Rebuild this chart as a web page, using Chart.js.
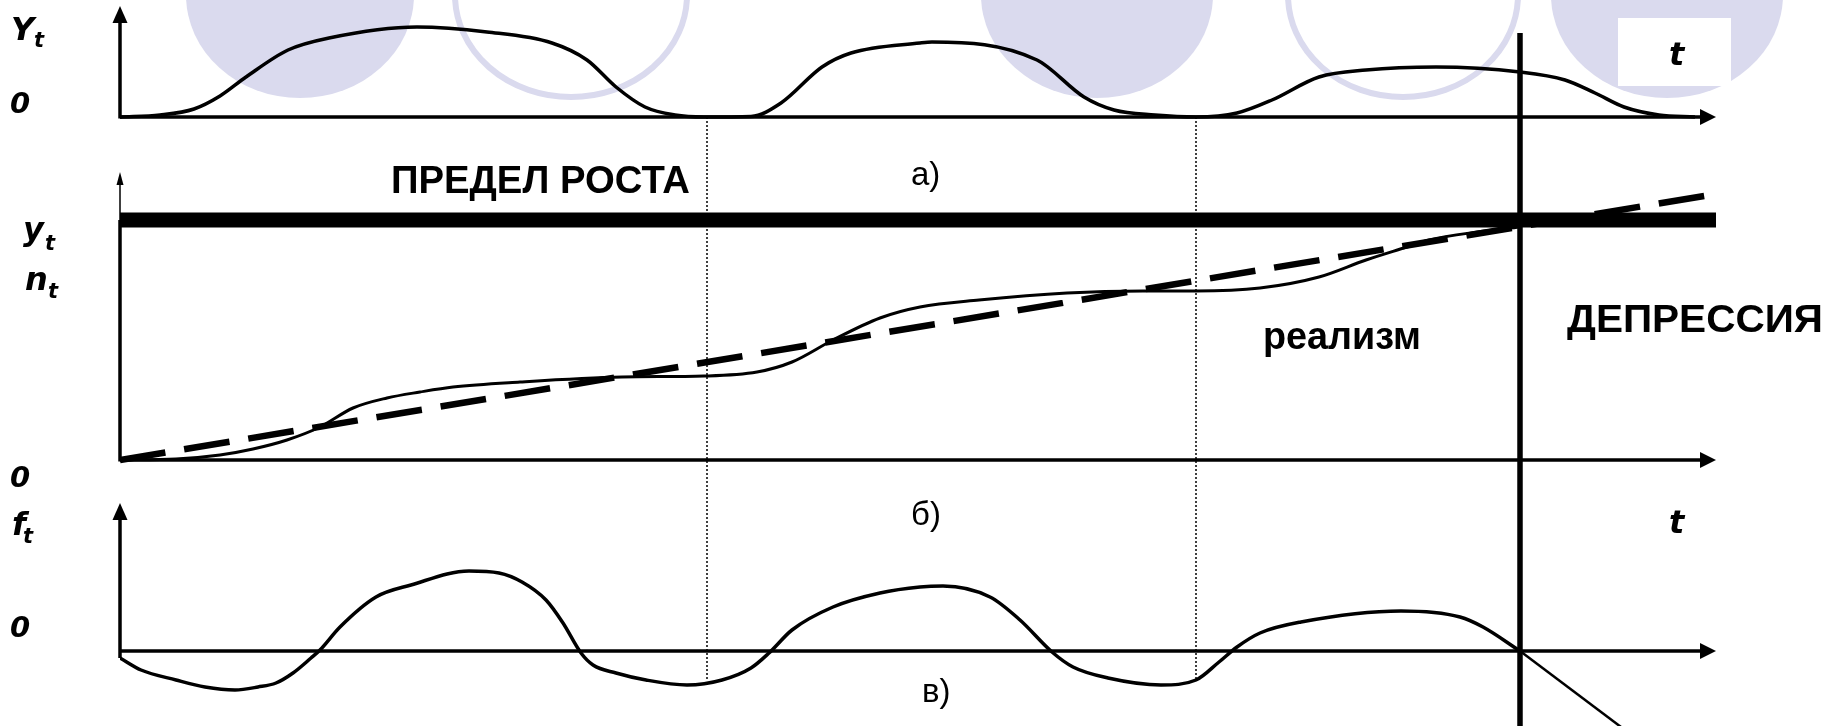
<!DOCTYPE html>
<html>
<head>
<meta charset="utf-8">
<script src="https://cdn.jsdelivr.net/npm/chart.js@4.4.0/dist/chart.umd.min.js"></script>
<style>
  html, body { margin: 0; padding: 0; background: #fff; }
  #wrap { width: 1841px; height: 726px; position: relative; }
</style>
</head>
<body>
<div id="wrap"><canvas id="cycleChart"></canvas></div>
<script>
// Time axis runs 0..160 (arbitrary units), each panel has its own value axis

// а) output Y_t
const outputT = [0, 4, 7.4, 10, 12.6, 16.8, 20.9, 29.7, 36.7, 43.2, 46.7, 49.6, 52.5, 55.5, 58.4, 63.1, 66.1, 70.2, 73.1, 80, 81.2, 91.7, 96.4, 99.4, 103.5, 107.6, 111.7, 115.2, 119.9, 124.6, 131.6, 140, 144.5, 147.5, 150.4, 153.9, 157.5];
const outputY = [0, 0.2, 0.8, 2.1, 4.0, 6.7, 7.9, 9.0, 8.5, 7.4, 5.7, 3.0, 1.0, 0.2, 0, 0.05, 1.4, 5.0, 6.4, 7.4, 7.5, 5.7, 2.0, 0.7, 0.2, 0, 0.4, 1.7, 4.0, 4.7, 5.0, 4.5, 3.7, 2.4, 1.0, 0.2, 0];

// б) y_t / n_t growth curve
const growthT = [0, 5.6, 10, 13.3, 16.7, 20, 23.3, 26.7, 30, 33.3, 40, 50.2, 58.4, 63.7, 67.2, 71.3, 76, 80, 85.9, 94.7, 102.3, 107.6, 114, 119.9, 124.6, 128.7, 130.9, 135.7, 140];
const growthY = [0, 0.1, 0.5, 1.1, 2.0, 3.3, 5.2, 6.2, 6.8, 7.3, 7.8, 8.3, 8.4, 8.8, 9.8, 12.0, 14.2, 15.3, 16.0, 16.7, 16.9, 16.9, 17.2, 18.3, 20.0, 21.3, 22.0, 22.8, 23.3];

// б) linear trend and growth limit
const trendT = [0, 159.6];
const trendY = [0, 26.6];
const limitLevel = 24;

// в) f_t
const factorT = [0, 2.1, 5.6, 8.5, 11.5, 13.8, 15.6, 17.3, 19.1, 20, 22, 25.6, 29.1, 34.9, 37.9, 40.2, 42.6, 44.3, 46.1, 47.3, 49.6, 52.6, 56.7, 60.2, 63.1, 64.9, 67.2, 71.3, 76, 80, 82.3, 87, 90, 93.2, 95.3, 98.8, 104.1, 107.6, 109.9, 111.7, 114, 118.1, 128.1, 134, 136.3, 140];
const factorY = [-0.7, -1.9, -2.9, -3.6, -3.9, -3.6, -3.2, -2.2, -0.7, 0.1, 2.4, 5.4, 6.6, 8.0, 7.8, 6.9, 5.1, 2.8, -0.2, -1.4, -2.2, -2.9, -3.4, -2.9, -1.7, -0.2, 2.1, 4.4, 5.8, 6.4, 6.5, 5.4, 3.1, -0.1, -1.6, -2.7, -3.4, -2.9, -1.1, 0.4, 1.8, 2.9, 4.0, 3.4, 2.4, 0];
const collapseT = [140, 150.5];
const collapseY = [0, -7.9];

// phase boundaries (dotted) and the crisis moment (solid vertical)
const phaseBounds = [58.7, 107.6];
const phaseBottom = -3.0;
const crisisT = 140;
const crisisTop = 8.4;
const axisEndT = 159.6;

// layout
const H = 726;
const UNIT = 10;
function band(zeroPx) {
  return { min: -(H - zeroPx) / UNIT, max: zeroPx / UNIT };
}
const axisTops = { yTop: 11.1, yMid: 28.8, yBot: 14.8 };
const lavender = "rgb(218, 218, 238)";

function pts(xs, ys) {
  return xs.map((x, i) => ({ x: x, y: ys[i] }));
}

function arrowHead(ctx, x, y, dir, len, half) {
  ctx.beginPath();
  if (dir === "up") {
    ctx.moveTo(x, y);
    ctx.lineTo(x - half, y + len);
    ctx.lineTo(x + half, y + len);
  } else {
    ctx.moveTo(x, y);
    ctx.lineTo(x - len, y - half);
    ctx.lineTo(x - len, y + half);
  }
  ctx.closePath();
  ctx.fill();
}

function fitText(ctx, text, x, y, font, width) {
  ctx.font = font;
  const w = ctx.measureText(text).width;
  ctx.save();
  ctx.translate(x, y);
  ctx.scale(width / w, 1);
  ctx.fillText(text, 0, 0);
  ctx.restore();
}

// slide background: lavender circles and white box under "t"
const backdrop = {
  id: "backdrop",
  beforeDraw(chart) {
    const ctx = chart.ctx;
    ctx.save();
    ctx.fillStyle = "#fff";
    ctx.fillRect(0, 0, chart.width, chart.height);
    ctx.fillStyle = lavender;
    [[300, 114], [1097, 116], [1667, 116]].forEach(([cx, rx]) => {
      ctx.beginPath();
      ctx.ellipse(cx, -5, rx, 103, 0, 0, Math.PI * 2);
      ctx.fill();
    });
    ctx.strokeStyle = lavender;
    ctx.lineWidth = 6;
    [[571, 116], [1403, 115]].forEach(([cx, rx]) => {
      ctx.beginPath();
      ctx.ellipse(cx, -5, rx, 102, 0, 0, Math.PI * 2);
      ctx.stroke();
    });
    ctx.fillStyle = "#fff";
    ctx.fillRect(1618, 18, 113, 68);
    ctx.restore();
  },
};

// axes with arrows, phase boundaries
const guides = {
  id: "guides",
  beforeDatasetsDraw(chart) {
    const ctx = chart.ctx;
    const x = chart.scales.x;
    const x0 = x.getPixelForValue(0);
    const xEnd = x.getPixelForValue(axisEndT);
    ctx.save();
    ctx.strokeStyle = "#000";
    ctx.fillStyle = "#000";
    ctx.lineCap = "butt";

    // dotted phase boundaries
    ctx.lineWidth = 1.5;
    ctx.setLineDash([2, 2]);
    phaseBounds.forEach((t) => {
      const px = x.getPixelForValue(t);
      ctx.beginPath();
      ctx.moveTo(px, chart.scales.yTop.getPixelForValue(0));
      ctx.lineTo(px, chart.scales.yBot.getPixelForValue(phaseBottom));
      ctx.stroke();
    });
    ctx.setLineDash([]);

    ["yTop", "yMid", "yBot"].forEach((id) => {
      const s = chart.scales[id];
      const y0 = s.getPixelForValue(0);
      const tip = s.getPixelForValue(axisTops[id]);
      const low = id === "yBot" ? s.getPixelForValue(Math.min(0, factorY[0])) : y0 + 1.5;
      ctx.lineWidth = 3.5;
      // horizontal time axis
      ctx.beginPath();
      ctx.moveTo(x0, y0);
      ctx.lineTo(xEnd - 12, y0);
      ctx.stroke();
      arrowHead(ctx, xEnd, y0, "right", 16, 8);
      // vertical value axis
      if (id === "yMid") {
        const lim = s.getPixelForValue(limitLevel);
        ctx.beginPath();
        ctx.moveTo(x0, low);
        ctx.lineTo(x0, lim);
        ctx.stroke();
        ctx.lineWidth = 1.5;
        ctx.beginPath();
        ctx.moveTo(x0, lim);
        ctx.lineTo(x0, tip + 8);
        ctx.stroke();
        arrowHead(ctx, x0, tip, "up", 13, 3.5);
      } else {
        ctx.beginPath();
        ctx.moveTo(x0, low);
        ctx.lineTo(x0, tip + 12);
        ctx.stroke();
        arrowHead(ctx, x0, tip, "up", 17, 7.5);
      }
    });
    ctx.restore();
  },
  afterDatasetsDraw(chart) {
    const ctx = chart.ctx;
    const px = chart.scales.x.getPixelForValue(crisisT);
    ctx.save();
    ctx.strokeStyle = "#000";
    ctx.lineWidth = 5.5;
    ctx.beginPath();
    ctx.moveTo(px, chart.scales.yTop.getPixelForValue(crisisTop));
    ctx.lineTo(px, chart.height);
    ctx.stroke();
    ctx.restore();
  },
};

// text labels
const labels = {
  id: "labels",
  afterDraw(chart) {
    const ctx = chart.ctx;
    const F = "'Liberation Sans', Arial, sans-serif";
    const M = "'DejaVu Sans', Verdana, sans-serif";
    ctx.save();
    ctx.fillStyle = "#000";
    ctx.textBaseline = "alphabetic";
    ctx.textAlign = "left";

    const sym = (main, sub, x, y, subDx, subDy) => {
      ctx.font = "italic bold 32px " + M;
      ctx.fillText(main, x, y);
      ctx.font = "italic bold 21px " + M;
      ctx.fillText(sub, x + subDx, y + subDy);
    };
    sym("Y", "t", 11, 40, 23, 7);
    sym("y", "t", 23, 240, 22, 10);
    sym("n", "t", 25, 290, 23, 8);
    sym("f", "t", 12, 535, 11, 8);

    ctx.font = "italic bold 29px " + M;
    ctx.fillText("0", 10, 113);
    ctx.fillText("0", 10, 487);
    ctx.fillText("0", 10, 637);

    ctx.font = "italic bold 32px " + M;
    ctx.fillText("t", 1669, 65);
    ctx.fillText("t", 1669, 533);

    ctx.font = "33px " + F;
    ctx.fillText("а)", 911, 185);
    ctx.fillText("б)", 911, 525);
    ctx.fillText("в)", 922, 702);

    fitText(ctx, "ПРЕДЕЛ РОСТА", 391, 193, "bold 38px " + F, 299);
    fitText(ctx, "реализм", 1263, 349, "bold 38px " + F, 158);
    fitText(ctx, "ДЕПРЕССИЯ", 1567, 332, "bold 39px " + F, 256);
    ctx.restore();
  },
};

const line = (data, axis, width, extra) =>
  Object.assign(
    {
      data: data,
      yAxisID: axis,
      borderColor: "#000",
      borderWidth: width,
      pointRadius: 0,
      fill: false,
      cubicInterpolationMode: "monotone",
    },
    extra || {}
  );

const ctx = document.getElementById("cycleChart").getContext("2d");
const chart = new Chart(ctx, {
  type: "line",
  data: {
    datasets: [
      line(pts([0, axisEndT], [limitLevel, limitLevel]), "yMid", 15, { borderCapStyle: "butt" }),
      line(pts(outputT, outputY), "yTop", 3.5),
      line(pts(growthT, growthY), "yMid", 3),
      line(pts(trendT, trendY), "yMid", 6.5, { borderDash: [46, 19], borderCapStyle: "butt" }),
      line(pts(factorT, factorY), "yBot", 3.5),
      line(pts(collapseT, collapseY), "yBot", 2.5, { cubicInterpolationMode: "default", tension: 0 }),
    ],
  },
  options: {
    responsive: true,
    maintainAspectRatio: false,
    animation: false,
    events: [],
    layout: { padding: { left: 120, right: 121, top: 0, bottom: 0 } },
    plugins: { legend: { display: false }, tooltip: { enabled: false } },
    scales: {
      x: { type: "linear", min: 0, max: 160, display: false },
      yTop: Object.assign({ type: "linear", axis: "y", display: false }, band(117)),
      yMid: Object.assign({ type: "linear", axis: "y", display: false }, band(460)),
      yBot: Object.assign({ type: "linear", axis: "y", display: false }, band(651)),
    },
  },
  plugins: [backdrop, guides, labels],
});
</script>
</body>
</html>
